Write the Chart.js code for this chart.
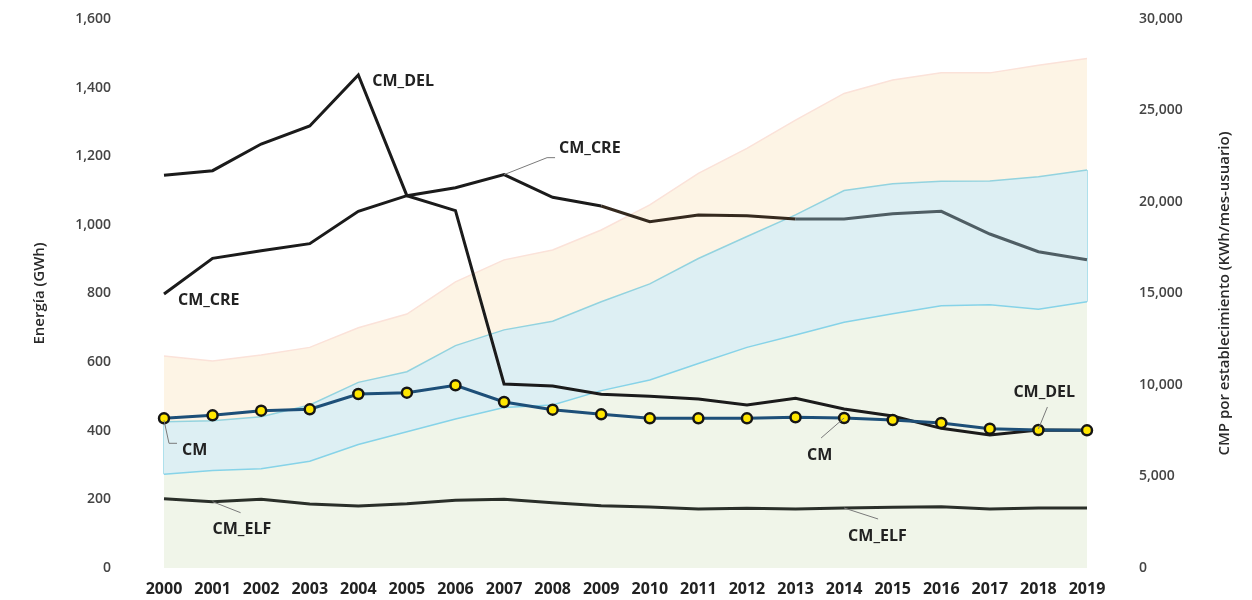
<!DOCTYPE html>
<html>
<head>
<meta charset="utf-8">
<script src="https://cdn.jsdelivr.net/npm/chart.js@4/dist/chart.umd.min.js"></script>
<style>
  html, body { margin: 0; padding: 0; background: #fff; }
  #wrap { width: 1252px; height: 600px; position: relative; }
</style>
</head>
<body>
<div id="wrap"><canvas id="grafico"></canvas></div>
<script>
// años
var anios = ['2000','2001','2002','2003','2004','2005','2006','2007','2008','2009',
             '2010','2011','2012','2013','2014','2015','2016','2017','2018','2019'];

// areas (eje izquierdo, GWh) - borde superior de cada capa
var areaVerde   = [273, 284, 289, 311, 360, 397, 434, 468, 475, 517, 548, 596, 643, 679, 716, 741, 764, 767, 754, 776];
var areaAzul    = [426, 429, 441, 475, 541, 572, 648, 694, 719, 776, 828, 902, 966, 1029, 1100, 1120, 1127, 1128, 1140, 1160];
var areaNaranja = [618, 603, 621, 643, 700, 740, 834, 898, 927, 985, 1058, 1150, 1223, 1305, 1383, 1422, 1443, 1443, 1465, 1485];

// lineas CMP (eje derecho, KWh/mes-usuario)
var cm    = [8180, 8344, 8596, 8672, 9508, 9579, 9983, 9071, 8650, 8399, 8180, 8180, 8180, 8235, 8197, 8087, 7923, 7613, 7541, 7523];
var cmDel = [21459, 21711, 23169, 24153, 26940, 20346, 19526, 10055, 9945, 9490, 9380, 9235, 8907, 9271, 8689, 8306, 7632, 7268, 7541, 7523];
var cmCre = [14973, 16923, 17340, 17723, 19490, 20346, 20783, 21494, 20255, 19781, 18925, 19290, 19253, 19071, 19071, 19361, 19490, 18251, 17285, 16848];
var cmElf = [3787, 3623, 3751, 3497, 3388, 3514, 3699, 3751, 3570, 3406, 3333, 3224, 3260, 3224, 3279, 3315, 3352, 3224, 3279, 3279];

var tituloIzq = 'Energía (GWh)';
var tituloDer = 'CMP por establecimiento (KWh/mes-usuario)';

// etiquetas: dataset, punto, desplazamiento del texto y linea guia
var etiquetas = [
  { texto: 'CM_DEL', ds: 1, i: 4,  dx: 14,  dy: 6 },
  { texto: 'CM_CRE', ds: 2, i: 0,  dx: 14,  dy: 6 },
  { texto: 'CM_CRE', ds: 2, i: 7,  dx: 55,  dy: -26, guia: [[0, 0], [43, -17], [51, -17]] },
  { texto: 'CM',     ds: 0, i: 0,  dx: 18,  dy: 32,  guia: [[0, 2], [5, 25], [13, 25]] },
  { texto: 'CM_ELF', ds: 3, i: 1,  dx: 0,   dy: 28,  guia: [[0, 0], [28, 11]] },
  { texto: 'CM',     ds: 0, i: 14, dx: -37, dy: 37,  guia: [[0, 0], [-23, 20]] },
  { texto: 'CM_ELF', ds: 3, i: 14, dx: 4,   dy: 28,  guia: [[0, 0], [34, 11]] },
  { texto: 'CM_DEL', ds: 1, i: 18, dx: -25, dy: -38, guia: [[0, -1], [9, -23]] }
];

var fuente = "'Open Sans', 'Noto Sans', sans-serif";

var pluginEtiquetas = {
  id: 'etiquetas',
  beforeDatasetsDraw: function (chart) {
    // bordes verticales de la capa azul en los extremos
    var ctx = chart.ctx;
    var verde = chart.getDatasetMeta(4).data;
    var azul = chart.getDatasetMeta(5).data;
    ctx.save();
    ctx.strokeStyle = '#93d6e6';
    ctx.lineWidth = 1.5;
    [0, verde.length - 1].forEach(function (i) {
      ctx.beginPath();
      ctx.moveTo(verde[i].x, verde[i].y);
      ctx.lineTo(azul[i].x, azul[i].y);
      ctx.stroke();
    });
    ctx.restore();
  },
  afterDatasetsDraw: function (chart) {
    var ctx = chart.ctx;
    ctx.save();
    etiquetas.forEach(function (e) {
      var p = chart.getDatasetMeta(e.ds).data[e.i];
      if (e.guia) {
        ctx.beginPath();
        ctx.strokeStyle = '#7a7a7a';
        ctx.lineWidth = 1;
        e.guia.forEach(function (g, k) {
          if (k === 0) ctx.moveTo(p.x + g[0], p.y + g[1]);
          else ctx.lineTo(p.x + g[0], p.y + g[1]);
        });
        ctx.stroke();
      }
      ctx.fillStyle = '#222';
      ctx.font = '700 16px ' + fuente;
      ctx.textAlign = 'left';
      ctx.textBaseline = 'middle';
      ctx.fillText(e.texto, p.x + e.dx, p.y + e.dy);
    });

    // titulo derecho leido de abajo hacia arriba
    var eje = chart.scales.yDer;
    ctx.translate(eje.right - 27, (chart.chartArea.top + chart.chartArea.bottom) / 2);
    ctx.rotate(-Math.PI / 2);
    ctx.fillStyle = '#2a2a2a';
    ctx.font = '600 15px ' + fuente;
    ctx.textAlign = 'center';
    ctx.textBaseline = 'middle';
    ctx.fillText(tituloDer, 0, 0);
    ctx.restore();
  }
};

// el padding de ticks se suma arriba y abajo en ejes verticales, lo quitamos
function ajustarY(ancho) {
  return function (s) {
    s.width = ancho;
    s.paddingTop = 8;
    s.paddingBottom = 8;
  };
}

var ctx = document.getElementById('grafico');
var grafico = new Chart(ctx, {
  type: 'line',
  data: {
    labels: anios,
    datasets: [{
      label: 'CM',
      data: cm,
      yAxisID: 'yDer',
      borderColor: '#1d4f78',
      borderWidth: 3,
      pointRadius: 5,
      pointBackgroundColor: '#ffe600',
      pointBorderColor: '#151515',
      pointBorderWidth: 2.5,
      fill: false,
      order: 0
    }, {
      label: 'CM_DEL',
      data: cmDel,
      yAxisID: 'yDer',
      borderColor: '#1b1b1b',
      borderWidth: 3,
      pointRadius: 0,
      fill: false,
      order: 0
    }, {
      label: 'CM_CRE',
      data: cmCre,
      yAxisID: 'yDer',
      borderColor: '#1b1b1b',
      borderWidth: 3,
      pointRadius: 0,
      fill: false,
      order: 0,
      segment: {
        borderColor: function (s) {
          if (s.p0DataIndex >= 13) return '#4f5e64';
          if (s.p0DataIndex >= 9) return '#35291e';
          return undefined;
        }
      }
    }, {
      label: 'CM_ELF',
      data: cmElf,
      yAxisID: 'yDer',
      borderColor: '#2a2f29',
      borderWidth: 3,
      pointRadius: 0,
      fill: false,
      order: 0
    }, {
      label: 'verde',
      data: areaVerde,
      yAxisID: 'yIzq',
      borderColor: '#86d3e8',
      borderWidth: 1.5,
      backgroundColor: '#f0f5e9',
      pointRadius: 0,
      fill: 'origin',
      order: 1
    }, {
      label: 'azul',
      data: areaAzul,
      yAxisID: 'yIzq',
      borderColor: '#93d3df',
      borderWidth: 1.5,
      backgroundColor: '#ddeff3',
      pointRadius: 0,
      fill: 4,
      order: 1
    }, {
      label: 'naranja',
      data: areaNaranja,
      yAxisID: 'yIzq',
      borderColor: '#fbe2d9',
      borderWidth: 1.5,
      backgroundColor: '#fdf4e5',
      pointRadius: 0,
      fill: 5,
      order: 1
    }]
  },
  options: {
    responsive: true,
    maintainAspectRatio: false,
    animation: false,
    layout: { padding: { top: 19, left: 0, right: 0, bottom: 0 } },
    plugins: {
      legend: { display: false },
      tooltip: { enabled: false }
    },
    scales: {
      x: {
        offset: false,
        grid: { display: false, drawTicks: false },
        border: { display: false },
        ticks: {
          color: '#222',
          font: { family: fuente, size: 16, weight: '700' },
          padding: 12,
          maxRotation: 0,
          autoSkip: false
        },
        afterFit: function (s) { s.height = 32; }
      },
      yIzq: {
        position: 'left',
        min: 0,
        max: 1600,
        grid: { display: false },
        border: { display: false },
        ticks: {
          stepSize: 200,
          color: '#444',
          padding: 45,
          font: { family: fuente, size: 14, weight: '600' },
          callback: function (v) { return v.toLocaleString('en-US'); }
        },
        title: {
          display: true,
          text: tituloIzq,
          color: '#2a2a2a',
          font: { family: fuente, size: 15, weight: '600' },
          padding: { top: 31, bottom: 0 }
        },
        afterFit: ajustarY(164)
      },
      yDer: {
        position: 'right',
        min: 0,
        max: 30000,
        grid: { display: false },
        border: { display: false },
        ticks: {
          stepSize: 5000,
          color: '#444',
          padding: 44,
          font: { family: fuente, size: 14, weight: '600' },
          callback: function (v) { return v.toLocaleString('en-US'); }
        },
        afterFit: ajustarY(165)
      }
    }
  },
  plugins: [pluginEtiquetas]
});
</script>
</body>
</html>
